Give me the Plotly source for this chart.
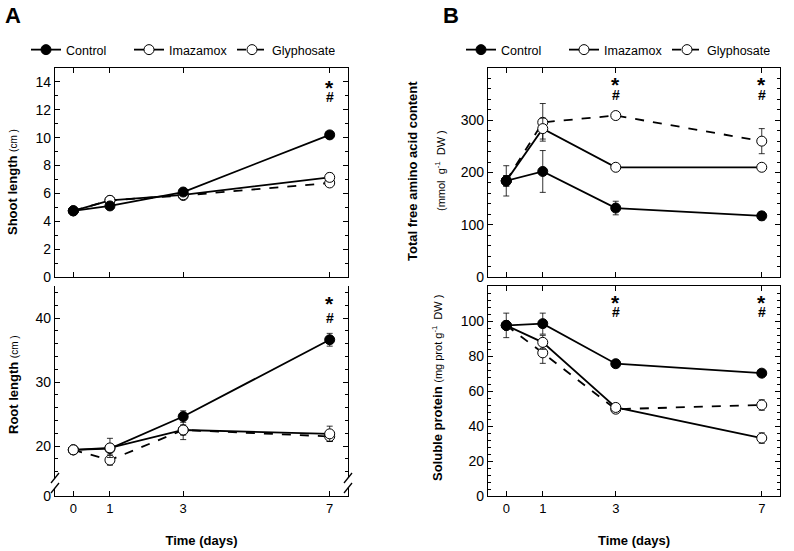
import plotly.graph_objects as go

W, H = 794, 551

# ---- data ----
days = [0, 1, 3, 7]

shoot_control = [4.75, 5.1, 6.1, 10.2]
shoot_control_err = [0.1, 0.15, 0.2, 0.2]
shoot_imazamox = [4.75, 5.5, 5.9, 7.15]
shoot_imazamox_err = [0.1, 0.2, 0.15, 0.3]
shoot_glyphosate = [4.75, 5.5, 5.85, 6.75]
shoot_glyphosate_err = [0.1, 0.2, 0.15, 0.2]

root_control = [19.4, 19.6, 24.6, 36.6]
root_control_err = [0.3, 0.5, 0.9, 1.0]
root_imazamox = [19.4, 19.7, 22.5, 21.9]
root_imazamox_err = [0.3, 1.5, 1.5, 1.2]
root_glyphosate = [19.4, 17.8, 22.5, 21.5]
root_glyphosate_err = [0.3, 0.8, 0.8, 0.8]

amino_control = [184, 202, 132, 117]
amino_control_err = [29, 40, 13, 8]
amino_imazamox = [184, 284, 210, 210]
amino_imazamox_err = [10, 20, 4, 4]
amino_glyphosate = [184, 296, 309, 260]
amino_glyphosate_err = [10, 36, 4, 24]

prot_control = [97.5, 98.5, 75.6, 70.2]
prot_control_err = [7, 6, 1.5, 1.5]
prot_imazamox = [97.5, 87.8, 50.6, 33.1]
prot_imazamox_err = [2, 4, 2, 3]
prot_glyphosate = [97.5, 81.8, 49.6, 52.0]
prot_glyphosate_err = [2, 6, 2, 3]

sig_days_A = [7]
sig_days_B = [3, 7]


def px(x):
    return x / W


def py(y):
    return 1 - y / H


FONT = "Arial, Liberation Sans, sans-serif"

fig = go.Figure()

styles = {
    "Control": dict(dash="solid", fill="black"),
    "Imazamox": dict(dash="solid", fill="white"),
    "Glyphosate": dict(dash="dash", fill="white"),
}


def add(name, y, err, xa, ya, legend=None):
    st = styles[name]
    fig.add_trace(go.Scatter(
        x=days, y=y, name=name, mode="lines+markers",
        xaxis=xa, yaxis=ya,
        line=dict(color="black", width=1.8, dash=st["dash"]),
        marker=dict(size=10, color=st["fill"], line=dict(color="black", width=1)),
        error_y=dict(type="data", array=err, color="black", thickness=0.8, width=3),
        showlegend=legend is not None, legend=legend or "legend",
    ))


# A top
add("Glyphosate", shoot_glyphosate, shoot_glyphosate_err, "x", "y", "legend")
add("Imazamox", shoot_imazamox, shoot_imazamox_err, "x", "y", "legend")
add("Control", shoot_control, shoot_control_err, "x", "y", "legend")
# A bottom
add("Control", root_control, root_control_err, "x3", "y3")
add("Glyphosate", root_glyphosate, root_glyphosate_err, "x3", "y3")
add("Imazamox", root_imazamox, root_imazamox_err, "x3", "y3")
# empty trace so the short lower segment of the broken axis gets drawn
fig.add_trace(go.Scatter(x=[], y=[], xaxis="x3", yaxis="y4", showlegend=False, hoverinfo="skip"))
# B top
add("Glyphosate", amino_glyphosate, amino_glyphosate_err, "x2", "y2", "legend2")
add("Imazamox", amino_imazamox, amino_imazamox_err, "x2", "y2", "legend2")
add("Control", amino_control, amino_control_err, "x2", "y2", "legend2")
# B bottom
add("Glyphosate", prot_glyphosate, prot_glyphosate_err, "x4", "y5")
add("Imazamox", prot_imazamox, prot_imazamox_err, "x4", "y5")
add("Control", prot_control, prot_control_err, "x4", "y5")

ax_common = dict(showline=True, linecolor="black", linewidth=1.3, ticks="inside",
                 tickcolor="black", tickwidth=1, showgrid=False, zeroline=False,
                 automargin=False,
                 tickfont=dict(family=FONT, size=14, color="black"))

xA = [px(55), px(348)]
xB = [px(488), px(780)]
yTop = [py(277), py(68)]
yBotUp = [py(478), py(286)]
yBotLow = [py(496), py(488)]
yBot = [py(496), py(286)]

xtitle = dict(text="<b>Time (days)</b>", font=dict(family=FONT, size=13, color="black"), standoff=21)
xcommon = dict(ax_common, range=[-0.5, 7.5], tickvals=days, ticklen=5)
fig.update_layout(
    xaxis=dict(xcommon, domain=xA, anchor="y", mirror="ticks", showticklabels=False),
    yaxis=dict(ax_common, domain=yTop, anchor="x", mirror="ticks", range=[0, 15],
               dtick=2, tick0=0, ticklen=5,
               minor=dict(dtick=1, ticks="inside", ticklen=3, tickcolor="black")),
    xaxis2=dict(xcommon, domain=xB, anchor="y2", mirror="ticks", showticklabels=False),
    yaxis2=dict(ax_common, domain=yTop, anchor="x2", mirror="ticks", range=[0, 400],
                tickvals=[0, 100, 200, 300], ticklen=5,
                minor=dict(dtick=20, tick0=0, ticks="inside", ticklen=3, tickcolor="black")),
    xaxis3=dict(xcommon, domain=xA, anchor="y4", mirror=False, showticklabels=True,
                tickfont=dict(family=FONT, size=13, color="black"), title=xtitle),
    xaxis5=dict(xcommon, overlaying="x3", anchor="y3", side="top", showticklabels=False),
    yaxis3=dict(ax_common, domain=yBotUp, anchor="x3", mirror="ticks", range=[15, 45],
                tickvals=[20, 30, 40], ticklen=5,
                minor=dict(dtick=2, tick0=0, ticks="inside", ticklen=3, tickcolor="black")),
    yaxis4=dict(ax_common, domain=yBotLow, anchor="x3", mirror="ticks", range=[0, 1.25],
                tickvals=[0], ticklen=0),
    xaxis4=dict(xcommon, domain=xB, anchor="y5", mirror="ticks", showticklabels=True,
                tickfont=dict(family=FONT, size=13, color="black"), title=xtitle),
    yaxis5=dict(ax_common, domain=yBot, anchor="x4", mirror="ticks", range=[0, 120],
                tickvals=[0, 20, 40, 60, 80, 100], ticklen=5,
                minor=dict(dtick=4, tick0=0, ticks="inside", ticklen=3, tickcolor="black")),
)

leg = dict(orientation="h", xanchor="left", yanchor="middle", y=py(50),
           font=dict(family=FONT, size=12.5, color="black"),
           bgcolor="rgba(0,0,0,0)", entrywidth=58, tracegroupgap=0, traceorder="reversed")
fig.update_layout(legend=dict(leg, x=px(26)), legend2=dict(leg, x=px(461)))

ann = []
# panel letters
ann.append(dict(text="<b>A</b>", x=px(3), y=py(15), xref="paper", yref="paper",
                xanchor="left", yanchor="middle", showarrow=False,
                font=dict(family=FONT, size=22, color="black")))
ann.append(dict(text="<b>B</b>", x=px(441), y=py(15), xref="paper", yref="paper",
                xanchor="left", yanchor="middle", showarrow=False,
                font=dict(family=FONT, size=22, color="black")))


def ytitle(text, x, y):
    ann.append(dict(text=text, x=px(x), y=py(y), xref="paper", yref="paper",
                    xanchor="center", yanchor="middle", textangle=-90, showarrow=False,
                    font=dict(family=FONT, size=13, color="black")))


ytitle("<b>Shoot length</b> <span style='font-size:10px'>(cm )</span>", 13, 182)
ytitle("<b>Root length</b> <span style='font-size:10px'>(cm )</span>", 13, 385)
ytitle("<b>Total free amino acid content</b>", 413, 171)
ytitle("<span style='font-size:11px'>(mmol  g<sup>-1</sup>  DW )</span>", 440, 171)
ytitle("<b>Soluble protein</b> <span style='font-size:11px'>(mg prot g<sup>-1</sup>  DW )</span>", 437, 388)


# significance marks
def sig(xa, ya, xs, ystar, yhash):
    for d in xs:
        ann.append(dict(text="<b>*</b>", x=d, y=ystar, xref=xa, yref=ya, showarrow=False,
                        yanchor="middle", font=dict(family=FONT, size=21, color="black")))
        ann.append(dict(text="<b>#</b>", x=d, y=yhash, xref=xa, yref=ya, showarrow=False,
                        yanchor="middle", font=dict(family=FONT, size=14, color="black")))


sig("x", "y", sig_days_A, 13.6, 12.95)
sig("x3", "y3", sig_days_A, 42.2, 40.0)
sig("x2", "y2", sig_days_B, 368, 349)
sig("x4", "y5", sig_days_B, 110.5, 105.0)

# axis break marks on the root length panel
shapes = []
for xs in (55, 348):
    for yc in (478, 488):
        shapes.append(dict(type="line", xref="paper", yref="paper",
                           x0=px(xs - 4), y0=py(yc + 5), x1=px(xs + 4), y1=py(yc - 5),
                           line=dict(color="black", width=1.3)))

fig.update_layout(
    annotations=ann, shapes=shapes,
    width=W, height=H, margin=dict(l=0, r=0, t=0, b=0, autoexpand=False),
    paper_bgcolor="white", plot_bgcolor="white",
    font=dict(family=FONT, color="black"),
)

# remove the page's default body margin so the figure sits at the window's corner
fig.write_html("out.html", config={"displayModeBar": False},
               post_script="document.body.style.margin='0px';")
